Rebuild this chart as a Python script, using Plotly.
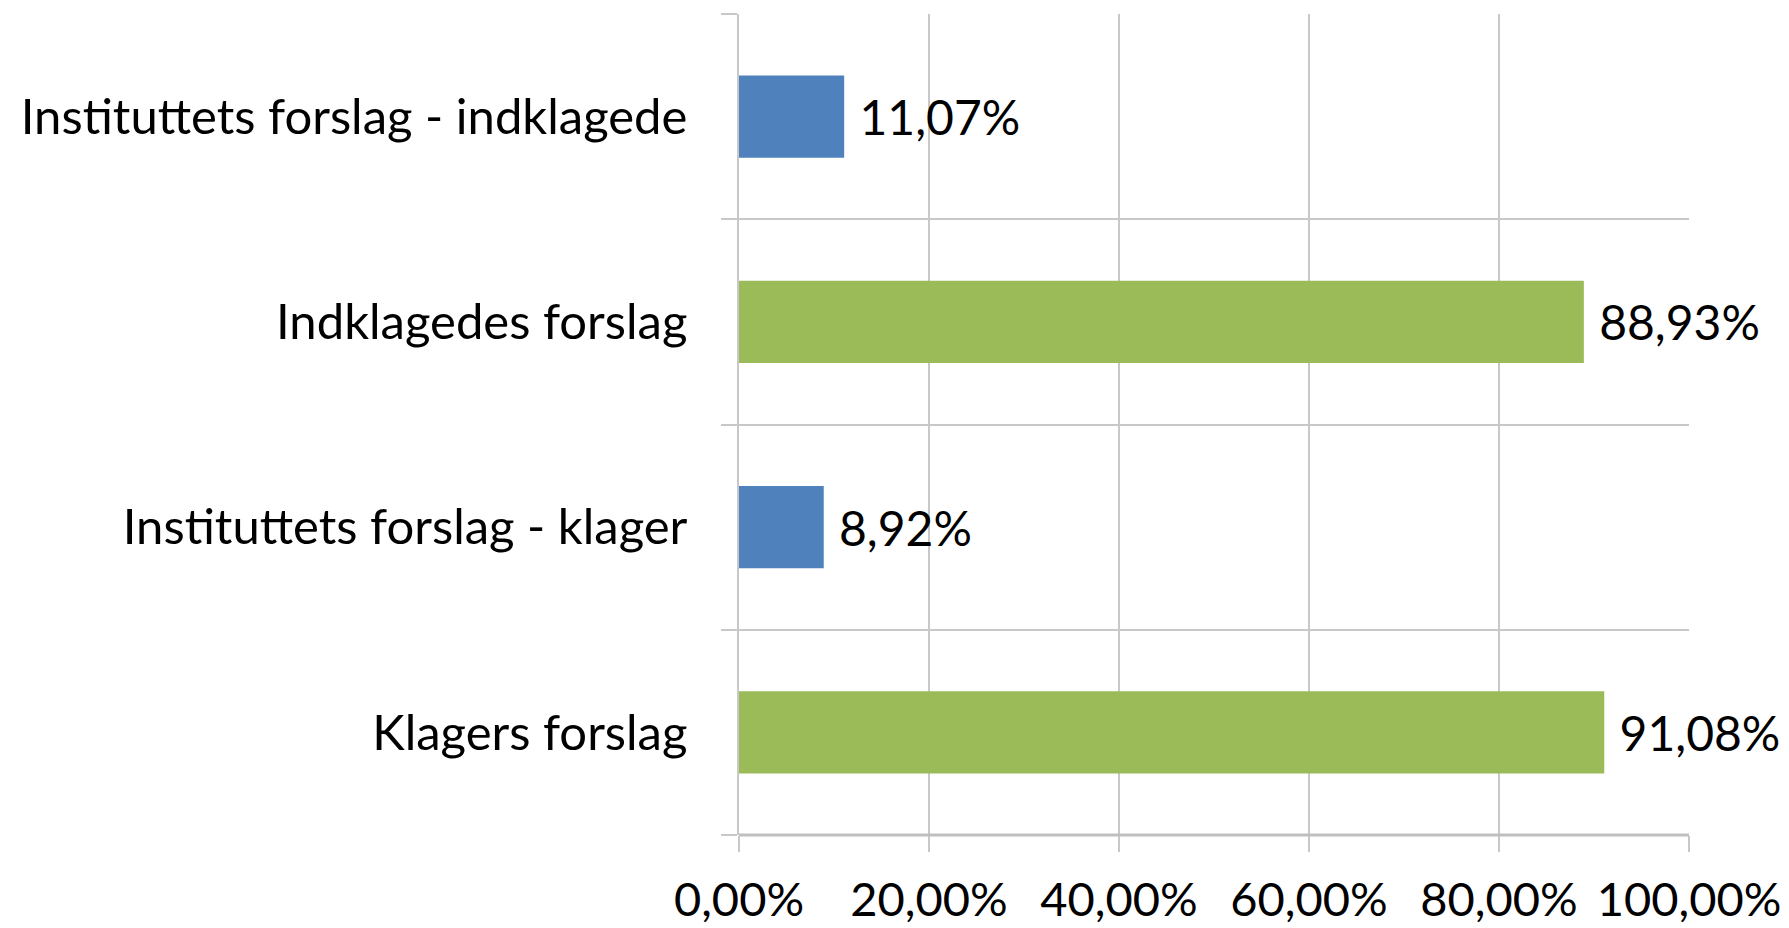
import plotly.graph_objects as go

categories = ["Klagers forslag", "Instituttets forslag - klager", "Indklagedes forslag", "Instituttets forslag - indklagede"]
values = [0.9108, 0.0892, 0.8893, 0.1107]
colors = ["#9BBB59", "#4F81BD", "#9BBB59", "#4F81BD"]
x_ticks = [0, 0.2, 0.4, 0.6, 0.8, 1.0]

FONT = "Lato"
labels = [f"{v*100:.2f}%".replace(".", ",") for v in values]

fig = go.Figure(go.Bar(
    y=categories, x=values, orientation="h",
    marker=dict(color=colors, line=dict(width=0)),
    width=0.4,
    text=[" " + t for t in labels], textposition="outside",
    textfont=dict(family=FONT, size=48, color="black"),
    cliponaxis=False,
))

fig.update_layout(
    width=1789, height=928,
    margin=dict(l=739, r=100, t=14, b=93),
    paper_bgcolor="white", plot_bgcolor="white",
    separators=",.",
    showlegend=False,
    font=dict(family=FONT, size=48, color="black"),
    xaxis=dict(range=[0, 1.0], tickvals=x_ticks, tickformat=".2%",
               automargin=False,
               showgrid=True, gridcolor="#C8C8C8", gridwidth=1.5,
               zeroline=False, showline=False,
               ticks="outside", ticklen=16, tickcolor="#C8C8C8", tickwidth=1.5,
               ticklabelstandoff=8,
               tickfont=dict(family=FONT, size=47, color="black")),
    yaxis=dict(type="category", categoryorder="array", categoryarray=categories,
               automargin=False,
               tickson="boundaries", showgrid=True, gridcolor="#C8C8C8", gridwidth=1.5,
               ticks="outside", ticklen=16, tickcolor="#C8C8C8", tickwidth=1.5,
               showline=True, linecolor="#C8C8C8", linewidth=1.5,
               ticklabelstandoff=40,
               tickfont=dict(family=FONT, size=49, color="black")),
)
fig.add_shape(type="line", xref="x", yref="paper", x0=0, x1=1, y0=0, y1=0,
              line=dict(color="#BFBFBF", width=3))

# remove the browser's default 8px body margin so the figure fills the window exactly
fig.write_html("out.html", config={"displayModeBar": False},
               post_script="document.body.style.margin='0';document.body.style.overflow='hidden';")
